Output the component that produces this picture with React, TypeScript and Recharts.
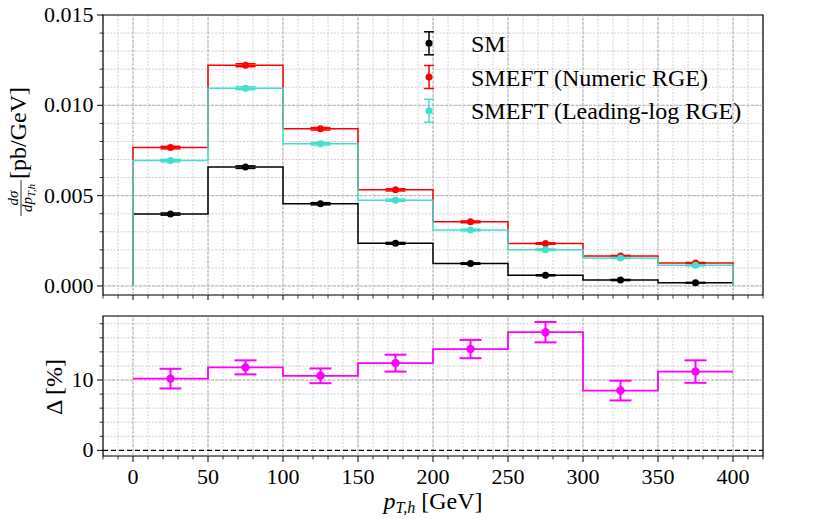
import React from 'react';
import {
  ComposedChart, Line, Scatter, ErrorBar, XAxis, YAxis, CartesianGrid,
  ReferenceLine, ReferenceArea, Legend,
} from 'recharts';

const FONT = '"Liberation Serif", "Times New Roman", serif';

// bins in p_T,h [GeV]
const binEdges = [0, 50, 100, 150, 200, 250, 300, 350, 400];
const binCenters = [25, 75, 125, 175, 225, 275, 325, 375];

// dsigma/dpT [pb/GeV]
const smValues = [0.00398, 0.00658, 0.00455, 0.00236, 0.00124, 0.00059, 0.00033, 0.00018];
const numericValues = [0.00766, 0.01222, 0.00870, 0.00532, 0.00355, 0.00235, 0.00166, 0.00127];
const leadingLogValues = [0.00694, 0.01095, 0.00787, 0.00475, 0.00310, 0.00201, 0.00155, 0.00114];
const smErrors = [0.00006, 0.00007, 0.00006, 0.00005, 0.00004, 0.00003, 0.00003, 0.00002];
const numericErrors = [0.00007, 0.00008, 0.00007, 0.00006, 0.00005, 0.00004, 0.00003, 0.00003];
const leadingLogErrors = [0.00007, 0.00008, 0.00007, 0.00006, 0.00005, 0.00004, 0.00003, 0.00003];

// relative difference [%]
const deltaValues = [10.2, 11.8, 10.6, 12.4, 14.4, 16.8, 8.5, 11.2];
const deltaErrors = [1.4, 1.0, 1.05, 1.2, 1.3, 1.45, 1.4, 1.6];

const seriesNames = ['SM', 'SMEFT (Numeric RGE)', 'SMEFT (Leading-log RGE)'];
const seriesColors = ['#000000', '#ff0000', '#40e0d0'];
const deltaColor = '#ff00ff';

const xTicks = [-20, -10, 0, 10, 20, 30, 40, 50, 60, 70, 80, 90, 100, 110, 120, 130, 140, 150, 160, 170, 180, 190, 200,
  210, 220, 230, 240, 250, 260, 270, 280, 290, 300, 310, 320, 330, 340, 350, 360, 370, 380, 390, 400, 410, 420];
const xMajorTicks = [0, 50, 100, 150, 200, 250, 300, 350, 400];
const topYTicks = [0, 0.001, 0.002, 0.003, 0.004, 0.005, 0.006, 0.007, 0.008, 0.009, 0.01, 0.011, 0.012, 0.013, 0.014, 0.015];
const topYMajor = [0, 0.005, 0.01, 0.015];
const bottomYTicks = [0, 2, 4, 6, 8, 10, 12, 14, 16, 18];
const bottomYMajor = [0, 10];

const X_DOMAIN = [-20, 420];
const TOP_Y_DOMAIN = [-0.0005, 0.015];
const BOTTOM_Y_DOMAIN = [-0.8, 19.1];

function histogram(values: number[], closed: boolean) {
  const pts: { x: number; y: number }[] = [];
  if (closed) pts.push({ x: binEdges[0], y: 0 });
  values.forEach((v, i) => pts.push({ x: binEdges[i], y: v }));
  pts.push({ x: binEdges[binEdges.length - 1], y: values[values.length - 1] });
  if (closed) pts.push({ x: binEdges[binEdges.length - 1], y: 0 });
  return pts;
}

function points(values: number[], errors: number[]) {
  return values.map((v, i) => ({ x: binCenters[i], y: v, err: errors[i] }));
}

const topSeries = [
  { values: smValues, errors: smErrors },
  { values: numericValues, errors: numericErrors },
  { values: leadingLogValues, errors: leadingLogErrors },
].map((s, i) => ({
  name: seriesNames[i],
  color: seriesColors[i],
  steps: histogram(s.values, true),
  pts: points(s.values, s.errors),
}));

const deltaSteps = histogram(deltaValues, false);
const deltaPts = points(deltaValues, deltaErrors);

const isMajor = (v: number, majors: number[]) => majors.some(m => Math.abs(m - v) < 1e-9);

function XTick(props: any) {
  const { x, y, payload, showLabel } = props;
  const major = isMajor(payload.value, xMajorTicks);
  return (
    <g>
      <line x1={x} x2={x} y1={y} y2={y + (major ? 6 : 3.5)} stroke="#000" strokeWidth={major ? 1 : 0.8} />
      {showLabel && major && (
        <text x={x} y={y + 28} textAnchor="middle" fontSize={22} fontFamily={FONT} fill="#000">{payload.value}</text>
      )}
    </g>
  );
}

function YTick(props: any) {
  const { x, y, payload, majors, digits } = props;
  const major = isMajor(payload.value, majors);
  return (
    <g>
      <line x1={x - (major ? 6 : 3.5)} x2={x} y1={y} y2={y} stroke="#000" strokeWidth={major ? 1 : 0.8} />
      {major && (
        <text x={x - 9.5} y={y + 7} textAnchor="end" fontSize={22} fontFamily={FONT} fill="#000">
          {payload.value.toFixed(digits)}
        </text>
      )}
    </g>
  );
}

const topYLabel = () => (
  <g transform="translate(21,152) rotate(-90)" fontFamily={FONT} fill="#000">
    <text x={-46} y={-3} textAnchor="middle" fontSize={15} fontStyle="italic">dσ</text>
    <line x1={-64} x2={-28} y1={0} y2={0} stroke="#000" strokeWidth={0.8} />
    <text x={-46} y={11} textAnchor="middle" fontSize={15} fontStyle="italic">
      dp<tspan fontSize={10.5} dy={3}>T,h</tspan>
    </text>
    <text x={19} y={5} textAnchor="middle" fontSize={24}>[pb/GeV]</text>
  </g>
);

const bottomYLabel = () => (
  <text transform="translate(62,87) rotate(-90)" textAnchor="middle" fontSize={24} fontFamily={FONT} fill="#000">
    Δ [%]
  </text>
);

const xLabel = () => (
  <text x={433} y={209} textAnchor="middle" fontSize={24} fontFamily={FONT} fill="#000">
    <tspan fontStyle="italic">p</tspan>
    <tspan fontSize={16} dy={4} fontStyle="italic">T,h</tspan>
    <tspan dy={-4}> [GeV]</tspan>
  </text>
);

function LegendContent() {
  return (
    <svg width={360} height={110}>
      {topSeries.map((s, i) => {
        const cy = 18.3 + i * 33.7;
        return (
          <g key={s.name}>
            <line x1={19} x2={19} y1={cy - 11.5} y2={cy + 11.5} stroke={s.color} strokeWidth={1.5} />
            <line x1={14} x2={24} y1={cy - 11.5} y2={cy - 11.5} stroke={s.color} strokeWidth={1.5} />
            <line x1={14} x2={24} y1={cy + 11.5} y2={cy + 11.5} stroke={s.color} strokeWidth={1.5} />
            <circle cx={19} cy={cy} r={3.5} fill={s.color} />
            <text x={61} y={cy + 8.5} fontSize={24} fontFamily={FONT} fill="#000">{s.name}</text>
          </g>
        );
      })}
    </svg>
  );
}

const gridProps = { stroke: '#c4c4c4', strokeDasharray: '2 1.5', strokeWidth: 0.8 };
const majorGridProps = { stroke: '#a9a9a9', strokeDasharray: '3 1.5', strokeWidth: 0.9 };

export default function App() {
  return (
    <div style={{ position: 'absolute', left: 0, top: 0, width: 830, height: 519, background: '#fff' }}>
      <div style={{ position: 'absolute', left: 0, top: 0 }}>
        <ComposedChart width={830} height={300} margin={{ top: 15, right: 67, bottom: 0, left: 0 }}>
          <CartesianGrid {...gridProps} />
          {xMajorTicks.map(v => <ReferenceLine key={'vx' + v} x={v} {...majorGridProps} />)}
          {topYMajor.slice(0, -1).map(v => <ReferenceLine key={'hy' + v} y={v} {...majorGridProps} />)}
          <XAxis
            type="number" dataKey="x" domain={X_DOMAIN} ticks={xTicks} interval={0} allowDataOverflow
            height={5} tickSize={0} tickMargin={0} axisLine={false} tickLine={false}
            tick={(p: any) => <XTick {...p} showLabel={false} />}
          />
          <YAxis
            type="number" dataKey="y" domain={TOP_Y_DOMAIN} ticks={topYTicks} interval={0} allowDataOverflow
            width={103} tickSize={0} tickMargin={0} axisLine={false} tickLine={false}
            tick={(p: any) => <YTick {...p} majors={topYMajor} digits={3} />}
            label={topYLabel}
          />
          <ReferenceArea x1={X_DOMAIN[0]} x2={X_DOMAIN[1]} y1={TOP_Y_DOMAIN[0]} y2={TOP_Y_DOMAIN[1]}
            fill="none" fillOpacity={0} stroke="#000" strokeWidth={1.2} />
          {topSeries.map(s => (
            <Line key={'l' + s.name} data={s.steps} dataKey="y" type="stepAfter" stroke={s.color}
              strokeWidth={1.5} dot={false} activeDot={false} isAnimationActive={false} />
          ))}
          {topSeries.map(s => (
            <Scatter key={'s' + s.name} data={s.pts} dataKey="y" fill={s.color} isAnimationActive={false}
              shape={(p: any) => <circle cx={p.cx} cy={p.cy} r={3.5} fill={s.color} />}>
              <ErrorBar dataKey="err" direction="y" width={10} stroke={s.color} strokeWidth={1.5} isAnimationActive={false} />
            </Scatter>
          ))}
          <Legend layout="vertical" align="center" verticalAlign="middle" content={LegendContent}
            wrapperStyle={{ left: 410, top: 25, width: 360, height: 110 }} />
        </ComposedChart>
      </div>
      <div style={{ position: 'absolute', left: 0, top: 300 }}>
        <ComposedChart width={830} height={219} margin={{ top: 16, right: 67, bottom: 0, left: 0 }}>
          <CartesianGrid {...gridProps} />
          {xMajorTicks.map(v => <ReferenceLine key={'vx' + v} x={v} {...majorGridProps} />)}
          <ReferenceLine y={10} {...majorGridProps} />
          <XAxis
            type="number" dataKey="x" domain={X_DOMAIN} ticks={xTicks} interval={0} allowDataOverflow
            height={63} tickSize={0} tickMargin={0} axisLine={false} tickLine={false}
            tick={(p: any) => <XTick {...p} showLabel />}
            label={xLabel}
          />
          <YAxis
            type="number" dataKey="y" domain={BOTTOM_Y_DOMAIN} ticks={bottomYTicks} interval={0} allowDataOverflow
            width={103} tickSize={0} tickMargin={0} axisLine={false} tickLine={false}
            tick={(p: any) => <YTick {...p} majors={bottomYMajor} digits={0} />}
            label={bottomYLabel}
          />
          <ReferenceLine y={0} stroke="#000" strokeDasharray="5 3" strokeWidth={1.3} />
          <ReferenceArea x1={X_DOMAIN[0]} x2={X_DOMAIN[1]} y1={BOTTOM_Y_DOMAIN[0]} y2={BOTTOM_Y_DOMAIN[1]}
            fill="none" fillOpacity={0} stroke="#000" strokeWidth={1.2} />
          <Line data={deltaSteps} dataKey="y" type="stepAfter" stroke={deltaColor} strokeWidth={1.8}
            dot={false} activeDot={false} isAnimationActive={false} />
          <Scatter data={deltaPts} dataKey="y" fill={deltaColor} isAnimationActive={false}
            shape={(p: any) => <circle cx={p.cx} cy={p.cy} r={4.2} fill={deltaColor} />}>
            <ErrorBar dataKey="err" direction="y" width={11} stroke={deltaColor} strokeWidth={2} isAnimationActive={false} />
          </Scatter>
        </ComposedChart>
      </div>
    </div>
  );
}
